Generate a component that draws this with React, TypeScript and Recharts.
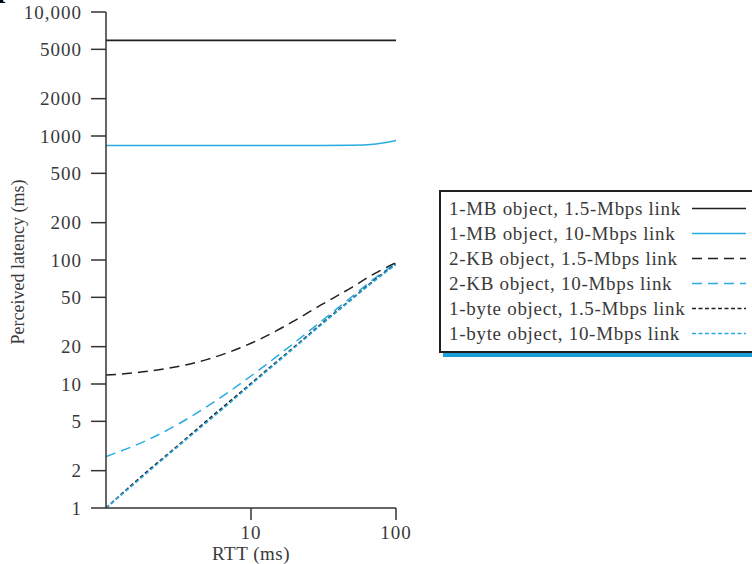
import { LineChart, Line, XAxis, YAxis } from 'recharts'

// RTT in ms (x axis, log)
const rtt = [1, 2, 3, 5, 7, 10, 15, 20, 30, 50, 70, 100]

// perceived latency in ms
const mb15 = [5900, 5900, 5900, 5900, 5900, 5900, 5900, 5900, 5900, 5900, 5900, 5900]
const mb10 = [840, 840, 840, 840, 840, 840, 840, 840, 840, 843, 858, 920]
const kb15 = [11.8, 12.7, 13.7, 15.8, 18, 21.3, 26.9, 32.5, 43, 60.5, 77, 95]
const kb10 = [2.6, 3.6, 4.6, 6.6, 8.6, 11.6, 16.6, 21.6, 31.5, 51, 70, 94]
const b15 = [1, 2.05, 3.05, 5.1, 7.1, 10.1, 15.1, 20, 30, 49, 68, 93]
const b10 = [1, 2, 3, 4.95, 6.9, 9.9, 14.8, 19.7, 29.5, 48.5, 67, 92]

const yTicks = [1, 2, 5, 10, 20, 50, 100, 200, 500, 1000, 2000, 5000, 10000]
const xTicks = [10, 100]

const BLACK = '#231f20'
const BLUE = '#29abe2'
const SERIF = '"Liberation Serif", "Times New Roman", serif'

const series = [
  { key: 'mb15', name: '1-MB object, 1.5-Mbps link', color: BLACK, dash: undefined, width: 1.7 },
  { key: 'mb10', name: '1-MB object, 10-Mbps link', color: BLUE, dash: undefined, width: 1.5 },
  { key: 'kb15', name: '2-KB object, 1.5-Mbps link', color: BLACK, dash: '10 6', width: 1.5 },
  { key: 'kb10', name: '2-KB object, 10-Mbps link', color: BLUE, dash: '10 6', width: 1.5 },
  { key: 'b15', name: '1-byte object, 1.5-Mbps link', color: BLACK, dash: '4 2.5', width: 1.6 },
  { key: 'b10', name: '1-byte object, 10-Mbps link', color: BLUE, dash: '4 2.5', width: 1.6 },
]

const data = rtt.map((r, i) => ({
  rtt: r,
  mb15: mb15[i],
  mb10: mb10[i],
  kb15: kb15[i],
  kb10: kb10[i],
  b15: b15[i],
  b10: b10[i],
}))

const tickStyle = { fontSize: 19, fill: '#3a3a3a', fontFamily: SERIF, letterSpacing: 1 }

function yFmt(v: number) {
  return v >= 10000 ? v.toLocaleString('en-US') : String(v)
}

export default function App() {
  return (
    <div style={{ position: 'absolute', left: 0, top: 0, width: 752, height: 564, overflow: 'hidden', background: '#fff' }}>
      {/* clipped heading fragment at the top-left corner */}
      <svg style={{ position: 'absolute', left: 0, top: 0 }} width={20} height={6}>
        <text x={-3} y={-3} fontSize={30} fontWeight="bold" fontFamily={SERIF} fill="#000">
          p
        </text>
      </svg>
      <LineChart width={752} height={564} data={data} margin={{ top: 12, right: 356, bottom: 0, left: 0 }}>
        <XAxis
          dataKey="rtt"
          type="number"
          scale="log"
          domain={[1, 100]}
          ticks={xTicks}
          allowDataOverflow
          height={56}
          tickSize={12}
          tickMargin={6}
          tick={tickStyle}
          stroke="#333"
          strokeWidth={1.5}
          label={{
            content: () => (
              <text x={251} y={560} textAnchor="middle" fontSize={19} fill="#3a3a3a" fontFamily={SERIF} letterSpacing={0.5}>
                RTT (ms)
              </text>
            ),
          }}
        />
        <YAxis
          type="number"
          scale="log"
          domain={[1, 10000]}
          ticks={yTicks}
          allowDataOverflow
          width={106}
          tickSize={15}
          tickMargin={9}
          tick={tickStyle}
          tickFormatter={yFmt}
          stroke="#333"
          strokeWidth={1.5}
          label={{
            content: () => (
              <text
                x={18}
                y={262}
                transform="rotate(-90, 18, 262)"
                textAnchor="middle"
                dominantBaseline="central"
                fontSize={18}
                fill="#3a3a3a"
                fontFamily={SERIF}
              >
                Perceived latency (ms)
              </text>
            ),
          }}
        />
        {series.map((s) => (
          <Line
            key={s.key}
            dataKey={s.key}
            name={s.name}
            type="monotone"
            stroke={s.color}
            strokeWidth={s.width}
            strokeDasharray={s.dash}
            dot={false}
            isAnimationActive={false}
          />
        ))}
      </LineChart>

      {/* legend box */}
      <div
        style={{
          position: 'absolute',
          left: 443,
          top: 352,
          width: 400,
          height: 5,
          background: '#1a9fd8',
        }}
      />
      <div
        style={{
          position: 'absolute',
          left: 439,
          top: 190,
          width: 400,
          height: 159,
          border: `2px solid ${BLACK}`,
          background: '#fff',
          boxSizing: 'content-box',
        }}
      >
        {series.map((s, i) => (
          <div
            key={s.key}
            style={{
              position: 'absolute',
              left: 8,
              top: 4 + i * 25,
              height: 25,
              lineHeight: '25px',
              fontFamily: SERIF,
              fontSize: 19,
              letterSpacing: 0.7,
              color: '#3a3a3a',
              whiteSpace: 'nowrap',
            }}
          >
            {s.name}
          </div>
        ))}
        <svg style={{ position: 'absolute', left: 0, top: 0 }} width={330} height={159}>
          {series.map((s, i) => (
            <line
              key={s.key}
              x1={251}
              x2={305}
              y1={16.5 + i * 25}
              y2={16.5 + i * 25}
              stroke={s.color}
              strokeWidth={s.width}
              strokeDasharray={s.dash}
            />
          ))}
        </svg>
      </div>
    </div>
  )
}
